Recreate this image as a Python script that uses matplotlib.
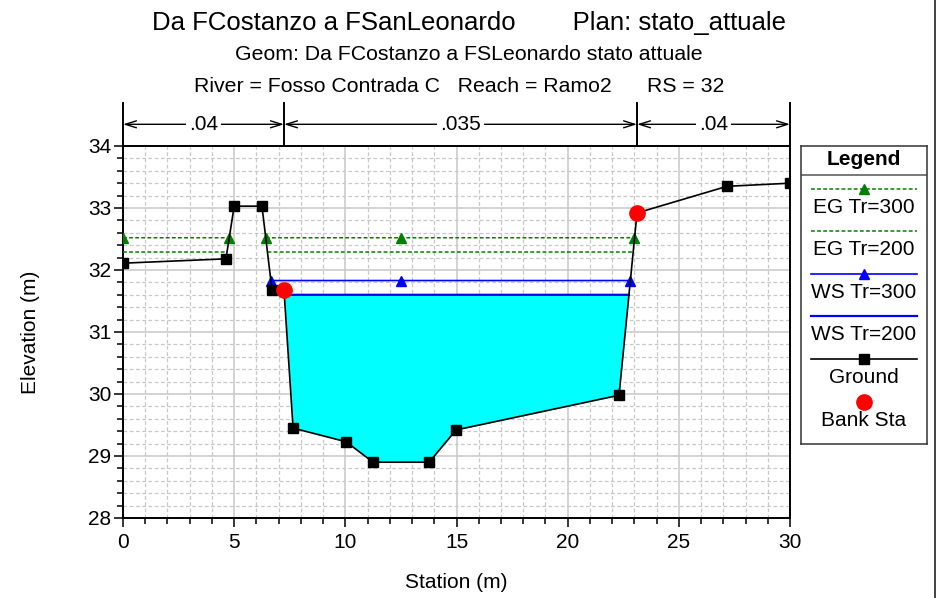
import numpy as np
import matplotlib
matplotlib.use('Agg')
import matplotlib.pyplot as plt
from matplotlib.lines import Line2D
from matplotlib.ticker import MultipleLocator

# ground section (station, elevation)
station = [0.0, 4.63, 5.0, 6.25, 6.7, 7.24, 7.65, 10.03, 11.25, 13.77, 14.98, 22.31, 23.12, 27.17, 30.0]
elevation = [32.11, 32.18, 33.03, 33.03, 31.68, 31.68, 29.45, 29.23, 28.90, 28.90, 29.42, 29.98, 32.92, 33.35, 33.40]

bank_station = [7.24, 23.12]
bank_elevation = [31.68, 32.92]

# profiles
eg_300 = 32.52
eg_200 = 32.29
ws_300 = 31.83
ws_200 = 31.60
eg_300_markers = [0.0, 4.78, 6.42, 12.5, 23.0]
ws_300_markers = [6.65, 12.5, 22.82]

# manning's n zones
n_edges = [0.0, 7.24, 23.12, 30.0]
n_values = ['.04', '.035', '.04']

legend_labels = ['EG Tr=300', 'EG Tr=200', 'WS Tr=300', 'WS Tr=200', 'Ground', 'Bank Sta']

plt.rcParams['font.family'] = ['Liberation Sans', 'DejaVu Sans']

W, H = 938, 598
fig = plt.figure(figsize=(W / 100, H / 100), dpi=100)


def fx(px):
    return px / W


def fy(py):
    return 1 - py / H


ax = fig.add_axes([fx(123), fy(518), (790 - 123) / W, (518 - 146) / H])

grid_col = '#c8c8c8'
ax.set_xlim(0, 30)
ax.set_ylim(28, 34)
ax.xaxis.set_major_locator(MultipleLocator(5))
ax.xaxis.set_minor_locator(MultipleLocator(1))
ax.yaxis.set_major_locator(MultipleLocator(1))
ax.yaxis.set_minor_locator(MultipleLocator(0.2))
ax.grid(which='major', color=grid_col, lw=1.1, ls='-', zorder=0)
ax.grid(which='minor', color=grid_col, lw=0.9, ls=(0, (3, 2)), zorder=0)
ax.set_axisbelow(True)
ax.tick_params(which='major', direction='out', length=6.5, width=1.1, labelsize=15, pad=2)
ax.tick_params(which='minor', direction='out', length=4, width=1.1)
ax.tick_params(axis='x', which='major', pad=4)
for s in ax.spines.values():
    s.set_linewidth(1.4)
    s.set_color('black')

# dense ground for water surfaces
xs = np.linspace(0, 30, 6001)
gz = np.interp(xs, station, elevation)

ax.fill_between(xs, gz, ws_200, where=gz < ws_200, interpolate=True,
                color='#00ffff', lw=0, zorder=2)


def level_line(level):
    return np.where(gz < level, level, np.nan)


eg_style = dict(color='#008000', lw=1.1, ls=(0, (2.5, 1.5)), zorder=3)
ax.plot(xs, level_line(eg_300), **eg_style)
ax.plot(eg_300_markers, [eg_300] * len(eg_300_markers), ls='none', marker='^',
        ms=7, color='#008000', zorder=4)
ax.plot(xs, level_line(eg_200), **eg_style)

ax.plot(xs, level_line(ws_300), color='#0000ff', lw=1.2, zorder=3)
ax.plot(ws_300_markers, [ws_300] * len(ws_300_markers), ls='none', marker='^',
        ms=7, color='#0000ff', zorder=4)
ax.plot(xs, level_line(ws_200), color='#0000ff', lw=1.6, zorder=3)

ax.plot(station, elevation, color='black', lw=1.2, marker='s', ms=7, zorder=5)
ax.plot(bank_station, bank_elevation, ls='none', marker='o', ms=11,
        color='#ff0000', zorder=6)

# manning's n bar above the plot
tr = ax.get_xaxis_transform()
y_bar = (518 - 124.3) / 372
y_top = (518 - 103) / 372
for x in n_edges:
    ax.plot([x, x], [1.0, y_top], transform=tr, color='black', lw=1.4,
            clip_on=False, zorder=6)
for i, lab in enumerate(n_values):
    x0, x1 = n_edges[i], n_edges[i + 1]
    mid = (x0 + x1) / 2
    for xe in (x0, x1):
        ax.annotate('', xy=(xe, y_bar), xytext=(mid, y_bar), xycoords=tr, textcoords=tr,
                    annotation_clip=False,
                    arrowprops=dict(arrowstyle='->,head_length=0.8,head_width=0.25',
                                    lw=1.0, color='black', shrinkA=0, shrinkB=0))
    ax.text(mid, y_bar, lab, transform=tr, ha='center', va='center', fontsize=15,
            bbox=dict(facecolor='white', edgecolor='none', pad=2), zorder=7)

# titles
fig.text(0.5, fy(23), 'Da FCostanzo a FSanLeonardo        Plan: stato_attuale',
         ha='center', va='center', fontsize=18.5)
fig.text(0.5, fy(54), 'Geom: Da FCostanzo a FSLeonardo stato attuale',
         ha='center', va='center', fontsize=15.3)
fig.text(fx(459), fy(86), 'River = Fosso Contrada C   Reach = Ramo2      RS = 32',
         ha='center', va='center', fontsize=15.3)

fig.text(fx(30), fy(332), 'Elevation (m)', rotation=90, ha='center', va='center', fontsize=15)
fig.text(fx(456), fy(582), 'Station (m)', ha='center', va='center', fontsize=15)

# legend box
lx0, lx1, ly0, ly1 = 800.7, 927, 145.7, 444
lg = fig.add_axes([fx(lx0), fy(ly1), (lx1 - lx0) / W, (ly1 - ly0) / H])
lg.set_xlim(lx0, lx1)
lg.set_ylim(ly1, ly0)
lg.set_xticks([])
lg.set_yticks([])
for s in lg.spines.values():
    s.set_linewidth(1.1)
    s.set_color('#333333')
lg.text((lx0 + lx1) / 2, 160, 'Legend', ha='center', va='center', fontsize=15, fontweight='bold')
lg.plot([lx0, lx1], [175.5, 175.5], color='#555555', lw=1.1)

sx0, sx1, smid = 810.7, 916.7, 864
line_y = [188.7, 230.7, 273.7, 316, 359, 401.7]
text_y = [208, 250, 293, 335, 378, 421]
styles = [
    dict(color='#008000', lw=1.1, ls=(0, (2.5, 1.5))),
    dict(color='#008000', lw=1.1, ls=(0, (2.5, 1.5))),
    dict(color='#0000ff', lw=1.2),
    dict(color='#0000ff', lw=1.6),
    dict(color='black', lw=1.2),
    None,
]
markers = ['^', None, '^', None, 's', 'o']
for ly, ty, st, mk, lab in zip(line_y, text_y, styles, markers, legend_labels):
    if st is not None:
        lg.plot([sx0, sx1], [ly, ly], **st)
    if mk == '^':
        lg.plot([smid], [ly], marker='^', ms=7, color=st['color'], ls='none')
    elif mk == 's':
        lg.plot([smid], [ly], marker='s', ms=7, color='black', ls='none')
    elif mk == 'o':
        lg.plot([smid], [ly], marker='o', ms=11, color='#ff0000', ls='none')
    lg.text(smid, ty, lab, ha='center', va='center', fontsize=15)

fig.add_artist(Line2D([fx(934.5)] * 2, [0, 1], transform=fig.transFigure, color='#222222', lw=1.2))

fig.savefig('out.png', dpi=100)
